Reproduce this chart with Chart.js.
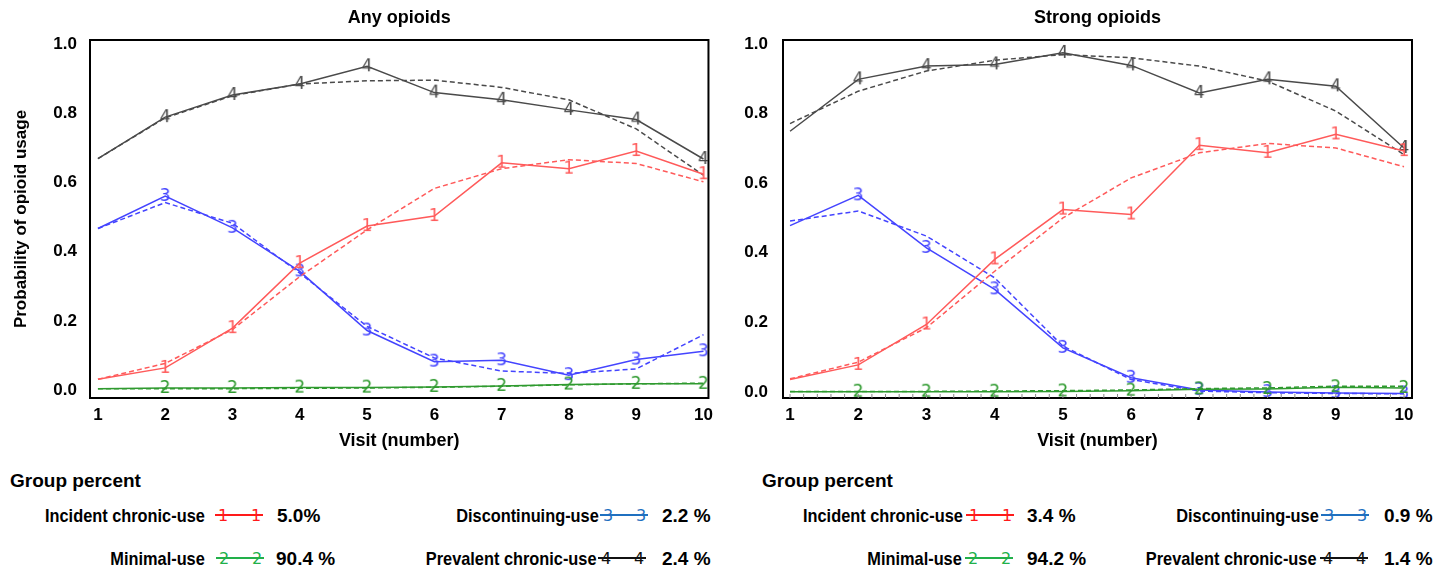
<!DOCTYPE html>
<html><head><meta charset="utf-8">
<script src="https://cdn.jsdelivr.net/npm/chart.js@4"></script>
<style>
body{margin:0;background:#fff;width:1449px;height:571px;overflow:hidden;position:relative;font-family:"Liberation Sans",Arial,sans-serif;}
.cw{position:absolute;top:0;height:460px}
#w1{left:0;width:720px}
#w2{left:730px;width:719px}
.leg{position:absolute;font-weight:bold;font-size:19px;color:#000;white-space:nowrap;line-height:22px}
.leg.nr{transform:scaleX(0.86)}
.leg.nr.r{transform-origin:right center}
.leg.nr.l{transform-origin:left center}
svg.sw{position:absolute;overflow:visible}
</style></head>
<body>
<div class="cw" id="w1"><canvas id="c1"></canvas></div>
<div class="cw" id="w2"><canvas id="c2"></canvas></div>
<div id="legend"></div>
<script>
// ---------- DATA ----------
const visits = [1,2,3,4,5,6,7,8,9,10];
const yTicks = [0,0.2,0.4,0.6,0.8,1.0];
const groupNames = ["Incident chronic-use","Minimal-use","Discontinuing-use","Prevalent chronic-use"];
const groupDigits = ["1","2","3","4"];
const anyPercents = ["5.0%","90.4 %","2.2 %","2.4 %"];
const strongPercents = ["3.4 %","94.2 %","0.9 %","1.4 %"];

// Any opioids (observed = solid, predicted = dashed)
const anyIncidentObs  = [0.031,0.064,0.179,0.367,0.474,0.503,0.657,0.640,0.691,0.624];
const anyIncidentPred = [0.031,0.077,0.175,0.328,0.463,0.583,0.640,0.666,0.655,0.602];
const anyMinimalObs   = [0.004,0.006,0.006,0.007,0.007,0.009,0.012,0.016,0.018,0.018];
const anyMinimalPred  = [0.004,0.004,0.004,0.005,0.006,0.008,0.011,0.015,0.018,0.020];
const anyDiscontObs   = [0.467,0.561,0.469,0.343,0.172,0.082,0.086,0.043,0.088,0.112];
const anyDiscontPred  = [0.467,0.542,0.482,0.338,0.184,0.093,0.055,0.048,0.061,0.160];
const anyPrevalentObs = [0.669,0.789,0.853,0.885,0.936,0.860,0.839,0.810,0.782,0.668];
const anyPrevalentPred= [0.669,0.787,0.851,0.885,0.894,0.896,0.875,0.839,0.755,0.621];

// Strong opioids
const strIncidentObs  = [0.036,0.078,0.194,0.381,0.524,0.510,0.709,0.687,0.740,0.692];
const strIncidentPred = [0.038,0.086,0.185,0.347,0.500,0.615,0.687,0.714,0.701,0.647];
const strMinimalObs   = [0.001,0.001,0.001,0.001,0.002,0.004,0.008,0.009,0.014,0.012];
const strMinimalPred  = [0.002,0.002,0.002,0.003,0.004,0.006,0.010,0.012,0.017,0.017];
const strDiscontObs   = [0.478,0.565,0.414,0.295,0.127,0.041,0.006,0.000,-0.003,-0.004];
const strDiscontPred  = [0.491,0.520,0.448,0.328,0.132,0.036,0.003,-0.002,-0.004,-0.005];
const strPrevalentObs = [0.749,0.898,0.936,0.941,0.974,0.938,0.859,0.898,0.878,0.701];
const strPrevalentPred= [0.771,0.864,0.922,0.953,0.969,0.960,0.936,0.893,0.807,0.682];

// ---------- STYLE ----------
const plotColors = ["#ff5a5a","#2f9a2f","#4444ff","#4a4a4a"];
const legendColors = ["#ff1a1a","#22b04a","#1f70c0","#111111"];
const FONT = '"Liberation Sans",Arial,sans-serif';

function makeMarker(d, color){
  const c = document.createElement('canvas');
  c.width = 14; c.height = 24;
  const x = c.getContext('2d');
  x.fillStyle = color;
  x.font = '17px "DejaVu Sans", sans-serif';
  x.textAlign = 'center'; x.textBaseline = 'middle';
  x.fillText(d, 7, 13);
  return c;
}

function buildDatasets(obs, pred){
  const ds = [];
  for (let g = 0; g < 4; g++){
    ds.push({
      data: visits.map((v,i)=>({x:v,y:pred[g][i]})),
      borderColor: plotColors[g], borderWidth: 1.5, borderDash:[5,3],
      pointRadius: 0, tension: 0, fill:false
    });
    ds.push({
      data: visits.map((v,i)=>({x:v,y:obs[g][i]})),
      borderColor: plotColors[g], borderWidth: 1.5,
      pointStyle: makeMarker(groupDigits[g], plotColors[g]),
      pointRadius: c => c.dataIndex === 0 ? 0 : 6, tension: 0, fill:false
    });
  }
  return ds;
}

function boxPlugin(title, minorTicks){
  return {
    id:'box'+title.replace(/\s/g,''),
    afterDraw(chart){
      const {ctx, chartArea:a} = chart;
      ctx.save();
      ctx.strokeStyle = '#000'; ctx.lineWidth = 2;
      ctx.strokeRect(a.left, a.top, a.right-a.left, a.bottom-a.top);
      if (minorTicks){
        const xs = chart.scales.x;
        ctx.lineWidth = 1; ctx.strokeStyle = '#888';
        for (let k = 5; k <= 50; k++){
          const px = xs.getPixelForValue(k/5);
          ctx.beginPath(); ctx.moveTo(px, a.bottom); ctx.lineTo(px, a.bottom-4); ctx.stroke();
        }
      }
      ctx.fillStyle = '#000';
      ctx.font = 'bold 18px ' + FONT;
      ctx.textAlign = 'center'; ctx.textBaseline = 'middle';
      ctx.fillText(title, (a.left+a.right)/2, 18);
      ctx.restore();
    }
  };
}

function makeChart(id, obs, pred, title, opts){
  return new Chart(document.getElementById(id), {
    type:'line',
    data:{datasets: buildDatasets(obs, pred)},
    options:{
      responsive:true, maintainAspectRatio:false, animation:false,
      layout:{padding:{top:40, right:opts.padRight, left:0, bottom:0}},
      plugins:{legend:{display:false}, tooltip:{enabled:false}},
      scales:{
        x:{type:'linear', min:opts.xmin, max:opts.xmax,
           grid:{display:false, drawTicks:false}, border:{display:false},
           afterBuildTicks:s=>{s.ticks = visits.map(v=>({value:v}));},
           afterFit:s=>{s.height = 62;},
           ticks:{autoSkip:false, maxRotation:0, padding:7, color:'#000',
                  font:{family:FONT, size:17, weight:'bold'}, callback:v=>String(v)},
           title:{display:true, text:'Visit (number)', color:'#000',
                  font:{family:FONT, size:18, weight:'bold'}, padding:{top:0,bottom:8}}},
        y:{type:'linear', min:opts.ymin, max:opts.ymax,
           grid:{display:false, drawTicks:false}, border:{display:false},
           afterBuildTicks:s=>{s.ticks = yTicks.map(v=>({value:v}));},
           afterFit:s=>{s.width = opts.yWidth;},
           ticks:{autoSkip:false, padding:opts.yPad, color:'#000',
                  font:{family:FONT, size:17, weight:'bold'}, callback:v=>v.toFixed(1)},
           title:{display:opts.yTitle, text:'Probability of opioid usage', color:'#000',
                  font:{family:FONT, size:17, weight:'bold'},
                  padding:{top:11,bottom:0}}}
      }
    },
    plugins:[boxPlugin(title, opts.minor)]
  });
}

makeChart('c1',
  [anyIncidentObs, anyMinimalObs, anyDiscontObs, anyPrevalentObs],
  [anyIncidentPred, anyMinimalPred, anyDiscontPred, anyPrevalentPred],
  'Any opioids',
  {xmin:0.882, xmax:10.074, ymin:-0.023, ymax:1.012, padRight:6, yWidth:90, yPad:13, yTitle:true, minor:false});

makeChart('c2',
  [strIncidentObs, strMinimalObs, strDiscontObs, strPrevalentObs],
  [strIncidentPred, strMinimalPred, strDiscontPred, strPrevalentPred],
  'Strong opioids',
  {xmin:0.897, xmax:10.117, ymin:-0.017, ymax:1.011, padRight:37, yWidth:53, yPad:15, yTitle:false, minor:true});

// ---------- LEGEND (HTML) ----------
const L = document.getElementById('legend');
function addText(txt, x, yc, alignRight, narrow){
  const d = document.createElement('div');
  d.className = 'leg' + (narrow ? ' nr ' + (alignRight ? 'r' : 'l') : '');
  d.textContent = txt;
  d.style.top = (yc-11) + 'px';
  if (alignRight){ d.style.right = (1449 - x) + 'px'; } else { d.style.left = x + 'px'; }
  L.appendChild(d);
}
function addSwatch(g, x, yc){
  const ns = 'http://www.w3.org/2000/svg';
  const s = document.createElementNS(ns,'svg');
  s.setAttribute('class','sw'); s.setAttribute('width','48'); s.setAttribute('height','20');
  s.style.left = x+'px'; s.style.top = (yc-10)+'px';
  const ln = document.createElementNS(ns,'line');
  ln.setAttribute('x1','0'); ln.setAttribute('x2','48'); ln.setAttribute('y1','9'); ln.setAttribute('y2','9');
  ln.setAttribute('stroke', legendColors[g]); ln.setAttribute('stroke-width','2.2');
  s.appendChild(ln);
  [8,41].forEach(cx=>{
    const t = document.createElementNS(ns,'text');
    t.setAttribute('x', cx); t.setAttribute('y','15'); t.setAttribute('text-anchor','middle');
    t.setAttribute('fill', legendColors[g]);
    t.setAttribute('font-family','DejaVu Sans, sans-serif'); t.setAttribute('font-size','16');
    t.textContent = groupDigits[g];
    s.appendChild(t);
  });
  L.appendChild(s);
}
const legendLayouts = [
  {gp:10, percents:anyPercents, items:[[205,215,277,516],[205,216,276,559],[599,600,662,516],[597,598,662,559]]},
  {gp:762, percents:strongPercents, items:[[963,966,1027,516],[962,965,1027,559],[1319,1321,1384,516],[1317,1320,1384,559]]}
];
legendLayouts.forEach(lay=>{
  addText('Group percent', lay.gp, 481, false, false);
  lay.items.forEach((it,g)=>{
    addText(groupNames[g], it[0], it[3], true, true);
    addSwatch(g, it[1], it[3]);
    addText(lay.percents[g], it[2], it[3], false, false);
  });
});
</script>
</body></html>
